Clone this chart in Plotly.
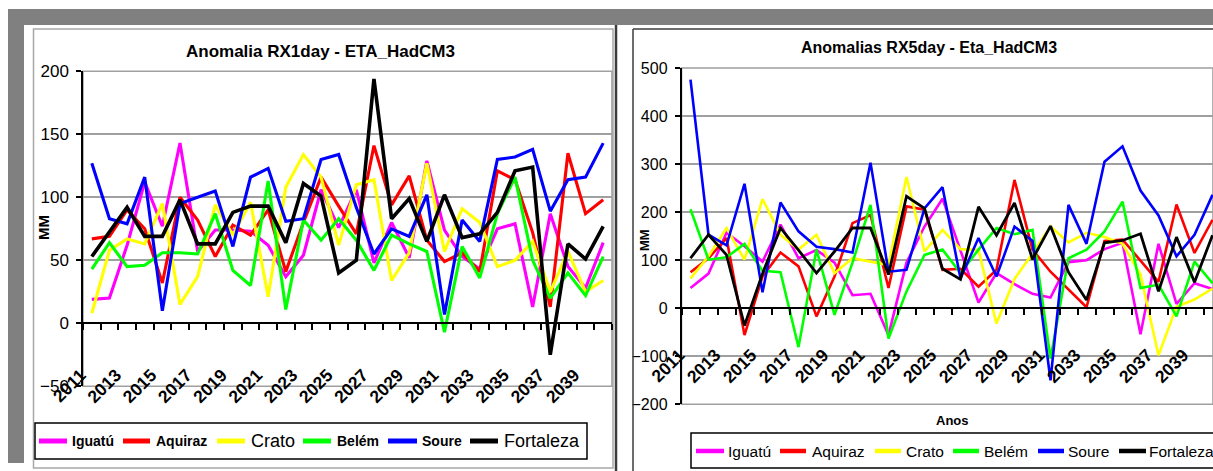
import plotly.graph_objects as go

# ---------------------------------------------------------------- data
YEARS = [2011, 2012, 2013, 2014, 2015, 2016, 2017, 2018, 2019, 2020,
         2021, 2022, 2023, 2024, 2025, 2026, 2027, 2028, 2029, 2030,
         2031, 2032, 2033, 2034, 2035, 2036, 2037, 2038, 2039, 2040]
YEAR_LABELS = [str(y) for y in YEARS[::2]]

STATIONS = ["Iguatú", "Aquiraz", "Crato", "Belém", "Soure", "Fortaleza"]
COLORS = ["#ff00ff", "#ff0000", "#ffff00", "#00ff00", "#0000ff", "#000000"]

# RX1day anomalies (mm)
rx1_iguatu = [19, 20, 62, 112, 77, 143, 57, 74, 74, 73, 62, 37, 54, 106, 76,
              106, 48, 80, 52, 129, 74, 53, 43, 75, 79, 13, 87, 45, 28, 64]
rx1_aquiraz = [67, 69, 90, 75, 32, 100, 82, 53, 78, 70, 90, 41, 80, 116, 93,
               71, 141, 94, 117, 66, 49, 56, 41, 121, 114, 72, 13, 135, 87, 98]
rx1_crato = [8, 58, 67, 63, 95, 15, 37, 94, 70, 96, 21, 108, 134, 116, 62,
             110, 114, 34, 56, 127, 57, 91, 80, 45, 50, 65, 25, 57, 25, 34]
rx1_belem = [43, 64, 45, 46, 56, 56, 55, 87, 42, 30, 113, 11, 82, 66, 83,
             66, 42, 70, 63, 57, -7, 61, 36, 87, 116, 50, 20, 40, 22, 53]
rx1_soure = [127, 83, 79, 116, 10, 95, 100, 105, 61, 116, 123, 81, 83, 130, 134,
             92, 55, 75, 69, 102, 7, 82, 65, 130, 132, 138, 89, 114, 116, 143]
rx1_fortaleza = [53, 73, 92, 69, 69, 98, 63, 63, 88, 93, 93, 64, 111, 101, 40,
                 50, 194, 83, 99, 65, 102, 68, 71, 88, 121, 124, -25, 63, 51, 77]

# RX5day anomalies (mm)
rx5_iguatu = [42, 72, 157, 129, 97, 174, 104, 121, 95, 27, 30, -56, 95, 170, 228,
              120, 12, 73, 50, 30, 22, 96, 100, 123, 136, -54, 134, 9, 52, 40]
rx5_aquiraz = [75, 104, 146, -56, 66, 116, 87, -17, 66, 177, 194, 42, 212, 205, 80,
               82, 45, 80, 267, 122, 76, 40, 2, 140, 143, 99, 55, 216, 115, 184]
rx5_crato = [62, 108, 167, 101, 227, 153, 122, 153, 73, 104, 97, 90, 273, 118, 163,
             123, 121, -32, 61, 114, 170, 137, 157, 148, 134, 70, -98, 3, 18, 41]
rx5_belem = [206, 101, 106, 134, 78, 75, -81, 122, -14, 95, 215, -63, 35, 111, 122,
             73, 122, 167, 154, 163, -105, 104, 122, 160, 222, 42, 49, -17, 97, 52]
rx5_soure = [476, 153, 131, 259, 33, 220, 160, 128, 123, 116, 303, 76, 80, 208, 252,
             62, 146, 66, 170, 140, -150, 215, 134, 305, 337, 245, 193, 108, 153, 236]
rx5_fortaleza = [104, 153, 111, -36, 72, 167, 121, 73, 118, 167, 167, 70, 233, 208, 82,
                 60, 211, 152, 219, 102, 171, 75, 17, 136, 141, 155, 35, 148, 54, 152]

RX1 = [rx1_iguatu, rx1_aquiraz, rx1_crato, rx1_belem, rx1_soure, rx1_fortaleza]
RX5 = [rx5_iguatu, rx5_aquiraz, rx5_crato, rx5_belem, rx5_soure, rx5_fortaleza]

# ---------------------------------------------------------------- layout helpers
W, H = 1213, 471
FONT = "Liberation Sans, Arial, sans-serif"


def px(x):
    return x / W


def py(y):
    return 1 - y / H


fig = go.Figure()

for i, (name, color) in enumerate(zip(STATIONS, COLORS)):
    fig.add_trace(go.Scatter(
        x=YEARS, y=RX1[i], name=name, mode="lines",
        line=dict(color=color, width=3.6 if name == "Fortaleza" else 3.1),
        xaxis="x", yaxis="y", showlegend=False))
for i, (name, color) in enumerate(zip(STATIONS, COLORS)):
    fig.add_trace(go.Scatter(
        x=YEARS, y=RX5[i], name=name, mode="lines",
        line=dict(color=color, width=2.8 if name == "Fortaleza" else 2.6),
        xaxis="x2", yaxis="y2", showlegend=False))

xcommon = dict(
    tickmode="array", tickvals=YEARS[::2], ticktext=YEAR_LABELS,
    tickangle=-45, ticks="", showgrid=False, zeroline=False,
    showline=True, linecolor="black", linewidth=1.5,
    tickfont=dict(family=FONT, size=17.5, color="black", weight="bold"),
    minor=dict(ticks="outside", ticklen=6, tickwidth=1.5, tickcolor="black",
               tick0=2010.5, dtick=1, showgrid=False),
    anchor="free", automargin=False, ticklabelshift=-11,
)
ycommon = dict(
    showgrid=True, gridcolor="#a0a0a0", gridwidth=1.6, zeroline=False,
    showline=True, linecolor="black", linewidth=1.5,
    ticks="outside", ticklen=5, tickwidth=1.5, tickcolor="black",
    ticklabelstandoff=4, automargin=False,
)

fig.update_layout(
    width=W, height=H,
    margin=dict(l=0, r=0, t=0, b=0, pad=0, autoexpand=False),
    paper_bgcolor="white", plot_bgcolor="rgba(0,0,0,0)",
    showlegend=False,
    xaxis=dict(domain=[px(83), px(612)], range=[2010.5, 2040.5],
               position=py(323.3), ticklabelstandoff=34, **xcommon),
    yaxis=dict(domain=[py(386.3), py(71.3)], range=[-50, 200], dtick=50, tick0=0,
               anchor="x", tickfont=dict(family=FONT, size=17, color="black"),
               **ycommon),
    xaxis2=dict(domain=[px(681.5), 1.0], range=[2010.5, 2010.5 + 531.5 / 18],
                position=py(308.3), ticklabelstandoff=29, **xcommon),
    yaxis2=dict(domain=[py(404.3), py(68)], range=[-200, 500], dtick=100, tick0=0,
                anchor="x2", tickfont=dict(family=FONT, size=16, color="black"),
                **ycommon),
)

shapes = []
# window chrome: grey bands and frames
shapes.append(dict(type="rect", xref="paper", yref="paper", x0=px(8), x1=1.05,
                   y0=py(25), y1=py(9), fillcolor="#808080", line=dict(width=0),
                   layer="below"))
shapes.append(dict(type="rect", xref="paper", yref="paper", x0=px(8), x1=px(24),
                   y0=py(463), y1=py(9), fillcolor="#808080", line=dict(width=0),
                   layer="below"))
shapes.append(dict(type="rect", xref="paper", yref="paper", x0=px(33.5), x1=px(613),
                   y0=py(468), y1=py(29), line=dict(color="#a8a8a8", width=1.5),
                   layer="below"))
shapes.append(dict(type="line", xref="paper", yref="paper", x0=px(616), x1=px(616),
                   y0=py(25), y1=-0.02, line=dict(color="#3c3c3c", width=2.5)))
shapes.append(dict(type="line", xref="paper", yref="paper", x0=px(633), x1=px(633),
                   y0=py(29), y1=-0.02, line=dict(color="#3c3c3c", width=1.5)))
shapes.append(dict(type="line", xref="paper", yref="paper", x0=px(633), x1=1.05,
                   y0=py(29), y1=py(29), line=dict(color="#3c3c3c", width=1.5)))

# plot-area borders
for xr, yr in (("x domain", "y domain"), ("x2 domain", "y2 domain")):
    shapes.append(dict(type="rect", xref=xr, yref=yr, x0=0, x1=1, y0=0, y1=1,
                       line=dict(color="#a0a0a0", width=1.6), layer="below"))

# legend boxes
shapes.append(dict(type="rect", xref="paper", yref="paper", x0=px(35), x1=px(587),
                   y0=py(459), y1=py(423), line=dict(color="black", width=1.5)))
shapes.append(dict(type="rect", xref="paper", yref="paper", x0=px(691), x1=1.05,
                   y0=py(468), y1=py(433), line=dict(color="black", width=1.5)))

annotations = []
# legend entries
left_items = [(39, 67, 70, 14, "bold"), (123, 150, 154, 14, "bold"),
              (217, 245, 249, 18, "normal"), (303, 331, 335, 14, "bold"),
              (388, 417, 420, 14, "bold"), (470, 498, 502, 18, "normal")]
right_items = [(696, 724, 726), (780, 806, 810), (875, 901, 904),
               (953, 979, 982), (1038, 1064, 1066), (1119, 1146, 1147)]
for (x0, x1, tx, fs, fw), name, color in zip(left_items, STATIONS, COLORS):
    shapes.append(dict(type="line", xref="paper", yref="paper", x0=px(x0), x1=px(x1),
                       y0=py(441), y1=py(441), line=dict(color=color, width=5)))
    annotations.append(dict(xref="paper", yref="paper", x=px(tx), y=py(441),
                            text=name, showarrow=False, xanchor="left", yanchor="middle",
                            font=dict(family=FONT, size=fs, color="black", weight=fw)))
for (x0, x1, tx), name, color in zip(right_items, STATIONS, COLORS):
    shapes.append(dict(type="line", xref="paper", yref="paper", x0=px(x0), x1=px(x1),
                       y0=py(451), y1=py(451), line=dict(color=color, width=4.5)))
    annotations.append(dict(xref="paper", yref="paper", x=px(tx), y=py(451),
                            text=name, showarrow=False, xanchor="left", yanchor="middle",
                            font=dict(family=FONT, size=15.5, color="black")))


def label(x, y, text, size, angle=0):
    return dict(xref="paper", yref="paper", x=px(x), y=py(y), text=text,
                textangle=angle, showarrow=False, xanchor="center", yanchor="middle",
                font=dict(family=FONT, size=size, color="black", weight="bold"))


# titles and axis titles
annotations += [
    label(320, 52, "Anomalia RX1day - ETA_HadCM3", 17),
    label(929, 48, "Anomalias RX5day - Eta_HadCM3", 16),
    label(43, 228, "MM", 15, -90),
    label(644, 240, "MM", 13, -90),
    label(952, 420, "Anos", 13),
]

fig.update_layout(shapes=shapes, annotations=annotations)
fig.write_html("out.html")
